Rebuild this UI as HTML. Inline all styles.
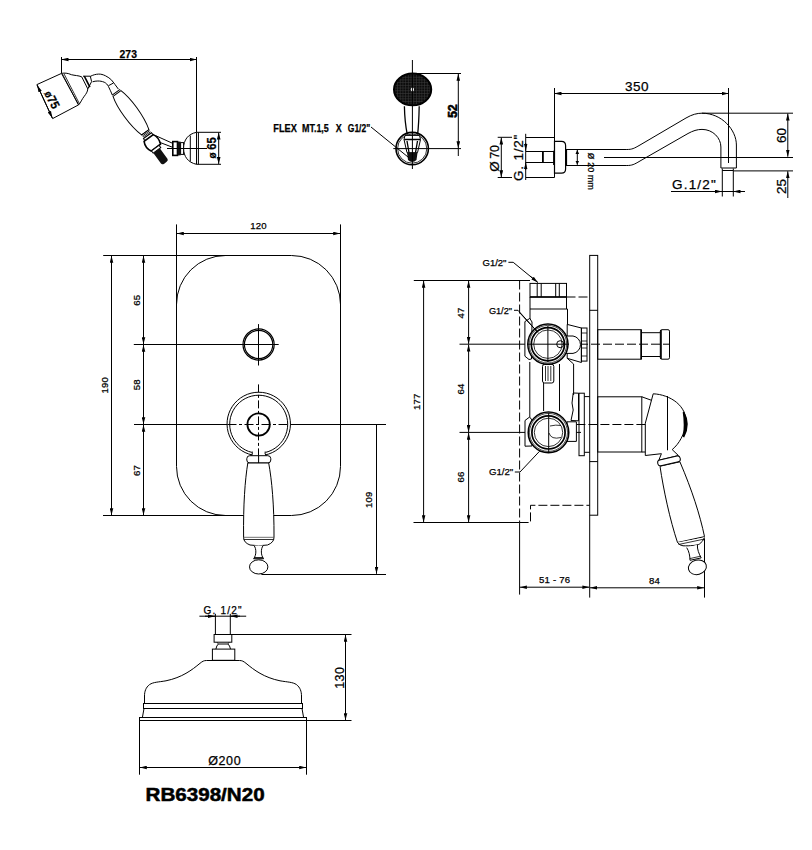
<!DOCTYPE html>
<html><head><meta charset="utf-8">
<style>
html,body{margin:0;padding:0;background:#fff;width:812px;height:850px;overflow:hidden}
svg{display:block}
text{font-family:"Liberation Sans",sans-serif;fill:#000;stroke:#000;stroke-width:0.25}
.s{fill:none;stroke:#000;stroke-width:1}
.t{fill:none;stroke:#000;stroke-width:1.6}
.th{fill:none;stroke:#000;stroke-width:0.8}
.d{fill:none;stroke:#000;stroke-width:1;stroke-dasharray:7 3}
.cd{fill:none;stroke:#000;stroke-width:1;stroke-dasharray:12 3 3 3}
</style></head><body>
<svg width="812" height="850" viewBox="0 0 812 850">
<defs>
<marker id="a" viewBox="0 0 7 4" refX="7" refY="2" markerWidth="7" markerHeight="4" orient="auto-start-reverse" markerUnits="userSpaceOnUse"><path d="M0,0.2 L7,2 L0,3.8 z" fill="#000"/></marker>
<marker id="b" viewBox="0 0 4 4" refX="4" refY="2" markerWidth="4" markerHeight="4" orient="auto-start-reverse" markerUnits="userSpaceOnUse"><path d="M0,0.2 L4,2 L0,3.8 z" fill="#000"/></marker>
</defs>

<!-- ============ HAND SHOWER (top-left) ============ -->
<g id="hs">
<path class="s" d="M61.5,57 V73"/>
<path class="s" d="M196.5,57 V132"/>
<path class="s" marker-start="url(#a)" marker-end="url(#a)" d="M61.5,59.5 H196.5"/>
<text x="119.6" y="57.6" font-size="11.5" font-weight="bold" textLength="17.3" lengthAdjust="spacingAndGlyphs">273</text>
<!-- head face -->
<path style="fill:#fff" class="s" d="M36.9,84.6 L61.5,73.4 L78.7,104.8 L52.6,118.6 Z"/>
<path class="th" d="M62.3,73.8 L78.3,104.8 M63.9,73.6 L79.7,104.2"/>
<!-- dimension 75 -->
<path class="s" marker-start="url(#a)" marker-end="url(#a)" d="M37.2,85.2 L52.3,118"/>
<text font-weight="bold" text-anchor="middle" transform="translate(48.3 101.6) rotate(63) scale(0.9 1)"><tspan font-size="11">ø</tspan><tspan font-size="12.5">75</tspan></text>
<!-- cone -->
<path class="s" d="M61.5,73.4 C64,72.8 68,73 71.4,74.7 C75,75.6 78,75.4 81.7,76.8"/>
<path class="s" d="M78.7,104.8 C80.5,103 82,99 84.3,96.2 C86,94 87.5,92 87.8,88.9"/>
<path class="s" d="M81.7,76.8 L87.8,88.9"/>
<path class="t" d="M84.3,76.2 L89.9,87.2"/>
<path class="s" d="M83,76.2 L90.3,76.2 M87.8,88.9 L91.6,81.6 M90.3,76.2 L91.6,81.6"/>
<!-- arm -->
<path class="s" d="M90.3,76.4 C93,75 95.5,74.2 98.6,74.1 C101,74 103,74.6 105.5,75.8 C108,77 110,78.5 111.6,80.1 C114,83 116,86 118.4,89.1"/>
<path class="s" d="M92.6,81.8 C94,81.3 96,81 97.8,81 C100,81 102,81.3 104.2,82.2 C106,83 107.5,84.5 108.5,86.6 C110,89.5 111,92 112.4,95.2"/>
<path class="s" d="M108.5,85.7 L113.3,83.1"/>
<!-- handle in local frame -->
<g transform="translate(117 93.5) rotate(54)">
<path style="fill:#fff" class="s" d="M0,-4.9 C12,-8.6 34,-8.6 48,-4.6 L48,4.5 C34,8.6 12,8.6 0,4.9 Z"/>
<path class="s" d="M-1.5,-4.9 V4.9"/>
<path class="th" d="M48,-4.6 V4.5 M49.3,-4.6 V4.6 M50.6,-4.6 V4.6 M51.9,-4.7 V4.7"/>
<rect style="fill:#fff" class="s" x="52" y="-4.9" width="2.6" height="10"/>
<path style="fill:#fff" class="t" d="M54.6,-5.2 C58,-7 63,-7 66.6,-5.4 V6.2 C63,8 58,8 54.6,6.2 Z"/>
<rect style="fill:#fff" class="s" x="66.6" y="-3.6" width="2.9" height="9.4"/>
<path fill="#111" d="M69.5,-2.4 H82.5 Q84.5,-2.4 84.5,0 V3 Q84.5,5.6 82.5,5.6 H69.5 Z"/>
</g>
<!-- hose -->
<path class="s" d="M155.3,135.5 L172.6,143.3 M159.6,142.3 L172.6,147.3"/>
<!-- connector -->
<rect style="fill:#fff" class="t" x="172.8" y="141.6" width="4.7" height="13.8"/>
<rect x="177.5" y="141.6" width="3.1" height="13.8" fill="#111"/>
<rect style="fill:#fff" class="s" x="180.6" y="142.6" width="3" height="11.8"/>
<!-- bracket -->
<path style="fill:#fff" class="s" d="M196.5,132.3 C188,134 183.6,140 183.6,148.3 C183.6,156.5 188,162.5 196.5,164.3 Z"/>
<path class="s" d="M190.3,135.5 V161.5 M198.4,132.3 V164.3"/>
<path class="s" d="M196.5,132.3 H221 M196.5,164.3 H221"/>
<path class="s" d="M167,148.5 H207"/>
<path class="s" marker-start="url(#a)" marker-end="url(#a)" d="M218.7,132.5 V164"/>
<text font-weight="bold" text-anchor="middle" transform="translate(216.2 147.8) rotate(-90) scale(0.9 1)"><tspan font-size="11">ø </tspan><tspan font-size="12.5">65</tspan></text>
</g>

<!-- ============ HAND SHOWER FRONT (top-middle) ============ -->
<g id="hf">
<defs>
<pattern id="mesh" x="412.4" y="89.4" width="2.7" height="2.7" patternUnits="userSpaceOnUse">
<rect width="2.7" height="2.7" fill="#0a0a0a"/>
<path d="M0,1.35 H2.7 M1.35,0 V2.7" stroke="#3c3c3c" stroke-width="0.55"/>
</pattern>
</defs>
<ellipse cx="412.6" cy="89.4" rx="18.6" ry="15.9" fill="url(#mesh)" stroke="#000" stroke-width="2"/>
<ellipse cx="412.4" cy="89.4" rx="1.6" ry="2" fill="#fff"/>
<path class="s" style="stroke-width:1.3" d="M404.4,106.2 C404.6,116 405.5,126 407.3,134.5 M419.2,106.2 C419,116 418.6,126 417.6,134.5"/>
<circle class="t" cx="412.2" cy="148.6" r="16.2"/>
<circle class="th" cx="412.2" cy="148.6" r="14.6"/>
<path style="fill:#fff" class="s" d="M405,135.4 H419.5 L420.5,139.5 L417.5,152.7 H407 L404,139.5 Z"/>
<path class="s" style="stroke-width:1.3" d="M404.2,139.5 H420.3 M407,141 L409,152.7 M417.5,141 L415.5,152.7"/>
<path fill="#111" d="M407,152.7 H417.5 L416.5,160 Q412.2,164 408,160 Z"/>
<path class="s" d="M412.4,60 V169"/>
<path class="s" d="M412.4,73.5 H461 M393.3,148.6 H461"/>
<path class="s" marker-start="url(#a)" marker-end="url(#a)" d="M458.3,73.8 V148.3"/>
<path class="s" d="M458.3,148.4 V156"/>
<text font-size="12" font-weight="bold" text-anchor="middle" transform="translate(456.8 111) rotate(-90)" style="stroke-width:0.6">52</text>
<g font-size="11.5" font-weight="bold" style="stroke-width:0.7">
<text x="273.3" y="131.7" textLength="23.6" lengthAdjust="spacingAndGlyphs">FLEX</text>
<text x="302" y="131.7" textLength="26.8" lengthAdjust="spacingAndGlyphs">MT.1,5</text>
<text x="335.7" y="131.7" textLength="6" lengthAdjust="spacingAndGlyphs">X</text>
<text x="347.8" y="131.7" textLength="22.4" lengthAdjust="spacingAndGlyphs">G1/2"</text>
</g>
<path class="s" d="M371,127 L409,157.8"/>
</g>

<!-- ============ SHOWER ARM (top-right) ============ -->
<g id="arm">
<path class="s" d="M554.5,88 V177.5"/>
<path class="s" d="M728.5,88 V163"/>
<path class="s" marker-start="url(#a)" marker-end="url(#a)" d="M554.5,93.5 H728.5"/>
<text x="637" y="91" font-size="13.5" text-anchor="middle" letter-spacing="0.5">350</text>
<!-- flange -->
<path class="s" style="fill:#fff;stroke-width:1.2" d="M554.5,141.4 H561.5 Q565.6,141.4 565.6,145.5 V169 Q565.6,173.1 561.5,173.1 H554.5 Z"/>
<path class="s" style="stroke-width:1.8" d="M566.2,149.2 V165.6"/>
<!-- nipple -->
<path class="s" d="M526,137.5 H554.5 M526,177.5 H554.5 M526,151.5 H554 M526,162.5 H554"/>
<path class="s" style="stroke-width:1.8" d="M542.9,151.5 V162.5 M554,150.8 V165"/>
<!-- Ø70 dim -->
<path class="s" d="M497.7,137.3 H512 M497.7,177.5 H512"/>
<path class="s" marker-start="url(#a)" marker-end="url(#a)" d="M501.3,137.5 V177.3"/>
<text text-anchor="middle" transform="translate(498.8 158.4) rotate(-90)"><tspan font-size="13.5">Ø</tspan><tspan font-size="12.5" dx="2.5">70</tspan></text>
<path class="s" d="M525.7,133.8 V180"/>
<path class="s" marker-end="url(#a)" d="M525.7,143 V150.5"/>
<path class="s" marker-end="url(#a)" d="M525.7,170 V162.4"/>
<text font-size="13.5" text-anchor="middle" letter-spacing="0.8" transform="translate(523 157.4) rotate(-90)">G. 1/2"</text>
<!-- pipe -->
<path class="s" d="M566,149.5 H626.8 C632,149.5 634,148.5 640,145 L686,118 C692,114.5 697,113.2 702,113.2 C722,113.2 736.4,130 736.4,145 V168"/>
<path class="s" d="M566,165.5 H626.8 C632,165.5 634,164.6 640,161 L688,133.5 C693,130.8 697,129.4 702,129.4 C713,129.4 720.9,138 720.9,147 V168"/>
<path class="s" d="M720.9,168 H736.4"/>
<path class="s" d="M722.3,168.5 V196.5 M733.3,168.5 V196.5 M722.3,170.5 H733.3"/>
<path class="s" d="M604,157.5 H793"/>
<path class="s" d="M702,113.2 H793 M733.5,170.9 H793"/>
<path class="s" marker-start="url(#a)" marker-end="url(#a)" d="M787.8,113.5 V156.7"/>
<path class="s" marker-start="url(#a)" d="M787.8,171.2 V198"/>
<text font-size="13.5" text-anchor="middle" transform="translate(786 135.4) rotate(-90)">60</text>
<text font-size="13.5" text-anchor="middle" transform="translate(786 186.4) rotate(-90)">25</text>
<path class="s" d="M671,191.5 H745"/>
<path class="s" marker-end="url(#a)" d="M712,191.5 H722"/>
<path class="s" marker-end="url(#a)" d="M743,191.5 H733.5"/>
<text x="672" y="189" font-size="13.5" letter-spacing="1.2">G.1/2"</text>
<!-- Ø20 -->
<path class="s" marker-start="url(#b)" marker-end="url(#b)" d="M577.3,150 V164.8"/>
<text font-size="9" transform="translate(587.8 152.6) rotate(90)"><tspan font-size="11.5">ø</tspan> 20 mm</text>
</g>
<!-- ============ FRONT PLATE VIEW ============ -->
<g id="fp">
<path class="s" d="M176.5,224.4 V305 M340.5,224.4 V305"/>
<path class="s" marker-start="url(#a)" marker-end="url(#a)" d="M176.8,233.5 H340.2"/>
<text x="258.5" y="229" font-size="9.6" letter-spacing="0.2" text-anchor="middle">120</text>
<rect class="s" x="176.5" y="255.5" width="164" height="260" rx="49" ry="49"/>
<path class="s" d="M103.2,255.5 H226 M103,515.5 H226"/>
<path class="s" marker-start="url(#a)" marker-end="url(#a)" d="M111.5,255.8 V515.2"/>
<text font-size="9.6" letter-spacing="0.2" text-anchor="middle" transform="translate(107.6 385.3) rotate(-90)">190</text>
<path class="s" marker-start="url(#a)" marker-end="url(#a)" d="M143.5,255.8 V344.2"/>
<path class="s" marker-start="url(#a)" marker-end="url(#a)" d="M143.5,344.8 V424.2"/>
<path class="s" marker-start="url(#a)" marker-end="url(#a)" d="M143.5,424.8 V515.2"/>
<text font-size="9.6" letter-spacing="0.2" text-anchor="middle" transform="translate(140.4 300.3) rotate(-90)">65</text>
<text font-size="9.6" letter-spacing="0.2" text-anchor="middle" transform="translate(140.4 384.8) rotate(-90)">58</text>
<text font-size="9.6" letter-spacing="0.2" text-anchor="middle" transform="translate(140.4 470.4) rotate(-90)">67</text>
<path class="s" d="M133.8,344.5 H278.7 M134,424.5 H227.5 M290.6,424.5 H386"/>
<!-- upper button -->
<circle class="s" cx="258.6" cy="344.5" r="15.6" style="stroke-width:1.2"/>
<circle class="s" cx="258.6" cy="344.5" r="14.2" style="stroke-width:1.2"/>
<path class="s" d="M258.5,324.1 V365.5"/>
<!-- escutcheon -->
<path class="s" d="M252.5,455 A31.7,31.7 0 1 1 265,455"/>
<path class="s" d="M251.8,452.4 A29,29 0 1 1 265.6,452.4"/>
<circle class="s" cx="258.6" cy="424.5" r="11.2" style="stroke-width:1.8"/>
<path class="s" stroke-dasharray="8 2.5 3 2.5" d="M258.5,384.4 V458"/>
<path class="s" stroke-dasharray="9 2.5 3 2.5" d="M227.5,424.5 H290.6"/>
<!-- handle -->
<path class="s" d="M252.2,451.5 Q253,454.5 251,455.7 M265.2,451.5 Q264.4,454.5 266.4,455.7"/>
<rect style="fill:#fff" class="s" x="246.8" y="455.7" width="24" height="7.3" rx="3"/>
<path class="s" stroke-dasharray="8 2.5 3 2.5" d="M258.6,456 V470"/>
<path style="fill:#fff" class="s" d="M247.8,463 C245,480 243.2,505 243.6,537.4 L274,537.4 C274.2,505 271.8,480 268.7,463 Z"/>
<path style="fill:#fff" class="s" d="M243.6,537.4 Q243.5,542.5 250,545 Q258.6,546.5 267.5,545 Q274,542.5 274,537.4"/>
<path class="th" d="M243.8,539.5 H273.8"/>
<path style="fill:#fff" class="s" d="M254.1,545.6 C256.5,549 256.5,555 253.6,558.8 L263.6,558.8 C260.7,555 260.7,549 263.1,545.6"/>
<path class="s" style="stroke-width:1.3" d="M254,557.8 H263.2"/>
<ellipse style="fill:#fff" class="s" cx="258.7" cy="566.9" rx="9.2" ry="7.1"/>
<path class="s" marker-end="url(#a)" d="M376.5,424.5 V573.8"/>
<path class="s" d="M261.4,574.5 H386"/>
<text font-size="9.6" letter-spacing="0.2" text-anchor="middle" transform="translate(371.8 499.8) rotate(-90)">109</text>
</g>

<!-- ============ SIDE VIEW ============ -->
<g id="sv">
<!-- plate -->
<rect class="s" x="589.7" y="255.4" width="8" height="259.8"/>
<path class="s" d="M589.7,310.3 H597.7 M589.7,461.6 H597.7"/>
<!-- wall box dashed -->
<path class="s" stroke-dasharray="9 3" d="M519.6,280.5 V522.5"/>
<path class="s" stroke-dasharray="9 3" d="M519.6,522.5 H530.5 V505.3 H589.7"/>
<path class="s" d="M519.6,522.5 V594.6 M589.7,515.2 V597.6 M704.5,538.5 V597.6"/>
<path class="s" marker-start="url(#a)" marker-end="url(#a)" d="M519.9,587.2 H589.4"/>
<path class="s" marker-start="url(#a)" marker-end="url(#a)" d="M590,587.8 H704.2"/>
<text x="554.7" y="583" font-size="9.6" letter-spacing="0.2" text-anchor="middle">51 - 76</text>
<text x="654.5" y="584" font-size="9.6" letter-spacing="0.2" text-anchor="middle">84</text>
<!-- left dims -->
<path class="s" d="M413.8,280.5 H530 M413.5,522.5 H519.6"/>
<path class="s" marker-start="url(#a)" marker-end="url(#a)" d="M423.6,280.8 V522.2"/>
<text font-size="9.6" letter-spacing="0.2" text-anchor="middle" transform="translate(419.8 401.7) rotate(-90)">177</text>
<path class="s" marker-start="url(#a)" marker-end="url(#a)" d="M468.6,280.8 V343.9"/>
<path class="s" marker-start="url(#a)" marker-end="url(#a)" d="M468.6,344.5 V432.1"/>
<path class="s" marker-start="url(#a)" marker-end="url(#a)" d="M468.6,432.7 V522.2"/>
<text font-size="9.6" letter-spacing="0.2" text-anchor="middle" transform="translate(464 313) rotate(-90)">47</text>
<text font-size="9.6" letter-spacing="0.2" text-anchor="middle" transform="translate(464 389) rotate(-90)">64</text>
<text font-size="9.6" letter-spacing="0.2" text-anchor="middle" transform="translate(464 477) rotate(-90)">66</text>
<path class="s" d="M459.5,344.2 H579 M459.5,432.4 H581"/>
<path class="s" stroke-dasharray="9 3" d="M579,344.2 H669"/>
<path class="s" stroke-dasharray="9 3" d="M576.4,424.5 H647"/>
<!-- top inlet -->
<rect class="s" x="530" y="283.4" width="36.5" height="13.6"/>
<path class="t" d="M530,297 H566.5"/>
<path class="s" d="M537.2,283.4 V297 M541.2,283.4 V297 M555.7,283.4 V297 M559.3,283.4 V297"/>
<path class="s" stroke-dasharray="9 3" d="M566.5,297 H589.7"/>
<path class="s" d="M530,297 V324 M566.5,297 V309 M530,309 H567.5 V326"/>
<!-- upper valve body -->
<path style="fill:#fff" class="s" d="M524.9,321.6 L529.8,318.4 L532,322 L531.5,359 L529,359.5 L524.9,356.2 Z"/>
<path style="fill:#fff" class="s" d="M567.2,324.4 L581.4,328 V362.5 L567.2,358.3 Z"/>
<path class="s" d="M567.2,358.3 L573.6,364 V395"/>
<rect class="s" x="581.4" y="328" width="5.6" height="33.1"/>
<path class="th" d="M581.4,333 H587 M581.4,341 H587 M581.4,348 H587 M581.4,356 H587"/>
<path style="fill:#fff" class="s" d="M565,336 H573 A8.8,8.8 0 0 1 573,353.4 H565 Z"/>
<circle class="s" cx="547.9" cy="344.2" r="20.1" style="fill:#fff;stroke-width:1.5"/>
<circle class="s" cx="547.9" cy="344.2" r="18.8" style="stroke-width:0.7"/>
<circle class="s" cx="547.9" cy="344.2" r="16.6" style="stroke-width:1.7"/>
<circle class="s" cx="547.9" cy="344.2" r="14.2" style="stroke-width:0.8"/>
<circle class="s" cx="560.2" cy="344.2" r="3.5"/>
<path class="s" d="M547.9,326 V362 M527,344.2 H569"/>
<rect class="s" x="542.5" y="364.4" width="11.3" height="18.6" rx="2"/>
<path class="th" d="M545.5,366 V381 M548,366 V381 M550.8,366 V381"/>
<path class="s" d="M529.8,362 V417 M543.6,383 V411 M559.5,364 V411"/>
<!-- lower valve body -->
<path style="fill:#fff" class="s" d="M525,420.5 L529.6,417 L532,420 V446 L525,446.2 Z"/>
<path style="fill:#fff" class="s" d="M567,421.8 H576.4 V441.4 H567 Z"/>
<circle class="s" cx="548.5" cy="432.4" r="20.3" style="fill:#fff;stroke-width:1.5"/>
<circle class="s" cx="548.5" cy="432.4" r="19" style="stroke-width:0.7"/>
<circle class="s" cx="548.5" cy="432.4" r="16.6" style="stroke-width:1.7"/>
<circle class="s" cx="548.5" cy="432.4" r="14.2" style="stroke-width:0.8"/>
<path class="s" d="M548.7,413 V452"/>
<path class="th" d="M550,426 Q556,424.5 561,425.5 M549,433 Q551,440 561,437.5"/>
<path class="s" d="M573.2,393 L578.5,393.2 V420.8 L571,420.5 L573.2,410 L572,403 Z"/>
<rect class="s" x="579" y="393.2" width="5.3" height="62.5"/>
<path class="s" d="M584.3,396.6 H589.7 M584.3,452.3 H589.7"/>
<!-- upper outlet stub -->
<rect class="s" x="597.7" y="329.7" width="43.5" height="29.5"/>
<path class="t" d="M641.2,329.7 V359.2"/>
<path class="s" d="M641.2,332.7 H660.3 M641.2,356.5 H660.3"/>
<rect class="s" x="660.3" y="329.7" width="9.2" height="29.5" rx="1.5"/>
<path class="t" d="M661,330 V359"/>
<!-- lower housing + lever -->
<rect class="s" x="597.7" y="396.8" width="44.1" height="55.2"/>
<path class="s" d="M641.8,396.8 L651.5,400.3 M641.8,452 H645.3"/>
<path style="fill:#fff" class="s" d="M653.2,393.8 C670,394.5 688,406 685.6,424 C684.5,434 679.5,443.5 672.2,449.6 L678.4,455.5 L658.8,460.3 L661.4,453.7 L645.3,455.5 V423.2 Z"/>
<path class="s" d="M667.5,396 V450.3"/>
<path fill="#000" d="M683.5,412 Q690.5,424.5 683.5,437 Q685.5,424.5 683.5,412 Z" stroke="#000" stroke-width="1.6"/>
<!-- side handle -->
<path style="fill:#fff" class="s" d="M660,466.2 C663.5,490 670,520 677.5,542.5 L704.5,536.6 C700,515 692,490 679.9,461.8 Z"/>
<rect style="fill:#fff" class="s" x="-11.5" y="-2.9" width="23" height="5.8" rx="2.6" transform="translate(669 460.9) rotate(-13)"/>
<path style="fill:#fff" class="s" d="M677.5,542.5 Q679.8,545.5 683,545.8 C690,546 697,545.5 699.5,544 Q703,541.5 704.5,537.5"/>
<path class="th" d="M678.5,544.5 L704.5,539"/>
<path style="fill:#fff" class="s" d="M686.7,547.6 C689,551 690,556 690,560.3 L701.2,557.9 C699,554 697,549 697.4,544.7"/>
<path class="th" d="M689.8,558.6 L700.6,556.2"/>
<ellipse style="fill:#fff" class="s" cx="0" cy="0" rx="9.1" ry="7.2" transform="translate(697.4 567.3) rotate(-15)"/>
<!-- leaders -->
<text x="482.5" y="265.8" font-size="9.5" textLength="24" lengthAdjust="spacingAndGlyphs">G1/2"</text>
<path class="s" d="M508.4,262.3 H513.2 L536,281"/>
<path marker-end="url(#a)" class="s" d="M530,276 L538,282.6"/>
<text x="488.9" y="313.5" font-size="9.5" textLength="23.1" lengthAdjust="spacingAndGlyphs">G1/2"</text>
<path class="s" d="M514,310.3 H518 L538,332.5"/>
<path class="s" d="M519.5,312.5 L537,331.5"/>
<text x="488.9" y="475" font-size="9.5" textLength="24.3" lengthAdjust="spacingAndGlyphs">G1/2"</text>
<path class="s" d="M514.8,472 H520 L539.6,451.2"/>
</g>

<!-- ============ RAIN SHOWER ============ -->
<g id="rs">
<text x="203.6" y="614.3" font-size="10" letter-spacing="1.2">G. 1/2"</text>
<path class="s" d="M199.4,616.2 H246.2"/>
<path class="s" marker-end="url(#a)" d="M205,616.2 H215"/>
<path class="s" marker-end="url(#a)" d="M240,616.2 H230.5"/>
<path class="s" d="M215.4,613.8 V634.5 M230.3,613.8 V634.5"/>
<rect class="s" x="214.1" y="634.5" width="17.7" height="7.7"/>
<path class="s" d="M215.9,649.1 Q216.5,645.5 218.4,644 H227.9 Q229.9,645.5 230.5,649.1"/>
<path class="th" d="M217,642.2 L218.4,644 M229.2,642.2 L227.9,644"/>
<rect class="s" x="212.4" y="649.1" width="22.4" height="11.2"/>
<path class="s" d="M206.4,660.5 C204,660.5 202.5,661.3 200,663.3 C192,670 182,677.5 166,680.8 C158,682.2 153.5,682 149.5,684.6 C145.8,687.5 144.5,691.5 144.5,696 V703.5"/>
<path class="s" d="M239.6,660.5 C242.0,660.5 243.5,661.3 246.0,663.3 C254.0,670 264.0,677.5 280.0,680.8 C288.0,682.2 292.5,682 296.5,684.6 C300.2,687.5 301.5,691.5 301.5,696 V703.5"/>
<path class="s" d="M206.4,660.5 H239.6"/>
<rect class="s" x="143.5" y="703.5" width="159" height="5"/>
<path class="s" d="M144,708.5 L142.4,717.5 M302,708.5 L303.6,717.5"/>
<rect class="s" x="139.5" y="717.5" width="167" height="3"/>
<path class="s" d="M231.8,634.5 H351.5 M306.5,720.5 H351.5"/>
<path class="s" marker-start="url(#a)" marker-end="url(#a)" d="M345.5,634.8 V720.2"/>
<text font-size="12.5" text-anchor="middle" letter-spacing="0.5" transform="translate(343.5 677.7) rotate(-90)">130</text>
<path class="s" d="M139.5,720.5 V774.7 M306.5,720.5 V774.7"/>
<path class="s" marker-start="url(#a)" marker-end="url(#a)" d="M139.8,767.5 H306.2"/>
<text x="224.7" y="765" font-size="12.5" text-anchor="middle" letter-spacing="0.6">Ø200</text>
<text x="145.6" y="801" font-size="18.2" font-weight="bold" textLength="119" lengthAdjust="spacingAndGlyphs" style="stroke-width:0.5">RB6398/N20</text>
</g>

</svg>
</body></html>
